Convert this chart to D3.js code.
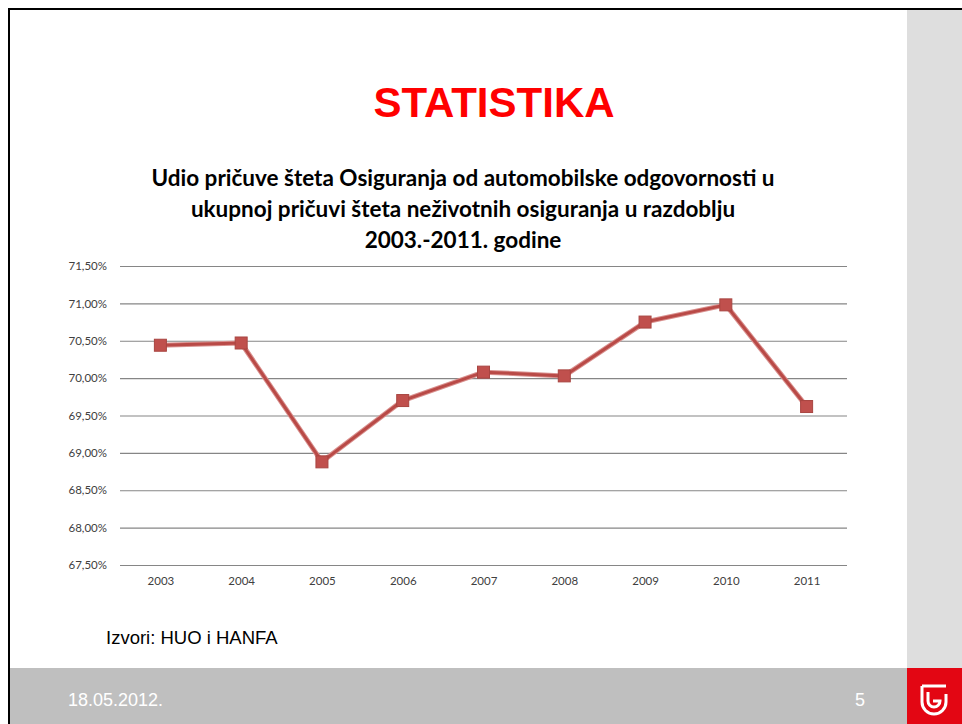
<!DOCTYPE html>
<html>
<head>
<meta charset="utf-8">
<script src="https://cdn.jsdelivr.net/npm/d3@7"></script>
<style>
  html, body { margin: 0; padding: 0; background: #fff; }
  svg { display: block; }
</style>
</head>
<body>
<svg id="slide" width="962" height="724"></svg>
<script>
// Chart data
const years = ["2003", "2004", "2005", "2006", "2007", "2008", "2009", "2010", "2011"];
const shares = [70.44, 70.47, 68.88, 69.70, 70.08, 70.03, 70.75, 70.98, 69.62];
const yTicks = [67.5, 68.0, 68.5, 69.0, 69.5, 70.0, 70.5, 71.0, 71.5];
const titleLines = [
  "Udio pričuve šteta Osiguranja od automobilske odgovornosti u",
  "ukupnoj pričuvi šteta neživotnih osiguranja u razdoblju",
  "2003.-2011. godine"
];

const svg = d3.select("#slide");

// Slide frame and side panels
svg.append("rect").attr("x", 907).attr("y", 10).attr("width", 55).attr("height", 658).attr("fill", "#dedede");
svg.append("rect").attr("x", 9).attr("y", 668).attr("width", 898).attr("height", 56).attr("fill", "#bfbfbf");
svg.append("rect").attr("x", 907).attr("y", 668).attr("width", 55).attr("height", 56).attr("fill", "#e30613");
svg.append("path").attr("d", "M9,724 V9 H962").attr("fill", "none").attr("stroke", "#000").attr("stroke-width", 2);

// Logo mark
const logo = svg.append("g").attr("transform", "translate(934,700)").attr("fill", "none").attr("stroke", "#fff").attr("stroke-width", 3);
logo.append("path").attr("d", "M-12,-14 V2 A12,12 0 0 0 12,2 V-6");
logo.append("path").attr("d", "M-12,-14 H12");
logo.append("path").attr("d", "M-6,-8 V1 A6,6 0 0 0 6,1 H-1");

// Headings
svg.append("text").attr("x", 494).attr("y", 117).attr("text-anchor", "middle")
  .attr("font-family", "Liberation Sans, Arial, sans-serif").attr("font-weight", "bold")
  .attr("font-size", 42).attr("fill", "#ff0000").text("STATISTIKA");

svg.append("g").selectAll("text").data(titleLines).join("text")
  .attr("x", 463).attr("y", (d, i) => 186 + i * 31).attr("text-anchor", "middle")
  .attr("font-family", "Lato, sans-serif").attr("font-weight", "bold")
  .attr("font-size", 22.5).attr("fill", "#000").text(d => d);

// Plot
const x = d3.scalePoint().domain(years).range([120, 847]).padding(0.5);
const y = d3.scaleLinear().domain([67.5, 71.5]).range([565, 266]);

const fmt = v => d3.format(".2f")(v).replace(".", ",") + "%";

const yAxis = svg.append("g").attr("transform", "translate(120,0)")
  .call(d3.axisLeft(y).tickValues(yTicks).tickSize(-727).tickPadding(13).tickFormat(fmt));
yAxis.select(".domain").remove();
yAxis.selectAll("line").attr("stroke", "#868686").attr("stroke-width", 1.2);
yAxis.selectAll("text").attr("font-family", "Lato, sans-serif").attr("font-size", 11.5).attr("fill", "#404040");

const xAxis = svg.append("g").attr("transform", "translate(0,565)")
  .call(d3.axisBottom(x).tickSize(0).tickPadding(12));
xAxis.select(".domain").remove();
xAxis.selectAll("text").attr("font-family", "Lato, sans-serif").attr("font-size", 11.5).attr("fill", "#404040");

const line = d3.line().x((d, i) => x(years[i])).y(d => y(d));
svg.append("path").datum(shares).attr("d", line).attr("fill", "none")
  .attr("stroke", "#d9918f").attr("stroke-width", 5).attr("stroke-linejoin", "round");
svg.append("path").datum(shares).attr("d", line).attr("fill", "none")
  .attr("stroke", "#b94a47").attr("stroke-width", 3).attr("stroke-linejoin", "round");

svg.append("g").selectAll("rect").data(shares).join("rect")
  .attr("x", (d, i) => x(years[i]) - 6).attr("y", d => y(d) - 6)
  .attr("width", 12).attr("height", 12)
  .attr("fill", "#c0504d").attr("stroke", "#a84541").attr("stroke-width", 1);

// Source and footer
svg.append("text").attr("x", 106).attr("y", 644)
  .attr("font-family", "Liberation Sans, Arial, sans-serif").attr("font-size", 18.5).attr("fill", "#000")
  .text("Izvori: HUO i HANFA");
svg.append("text").attr("x", 68).attr("y", 706)
  .attr("font-family", "Liberation Sans, Arial, sans-serif").attr("font-size", 18).attr("fill", "#fff")
  .text("18.05.2012.");
svg.append("text").attr("x", 865).attr("y", 706).attr("text-anchor", "end")
  .attr("font-family", "Liberation Sans, Arial, sans-serif").attr("font-size", 18).attr("fill", "#fff")
  .text("5");
</script>
</body>
</html>
